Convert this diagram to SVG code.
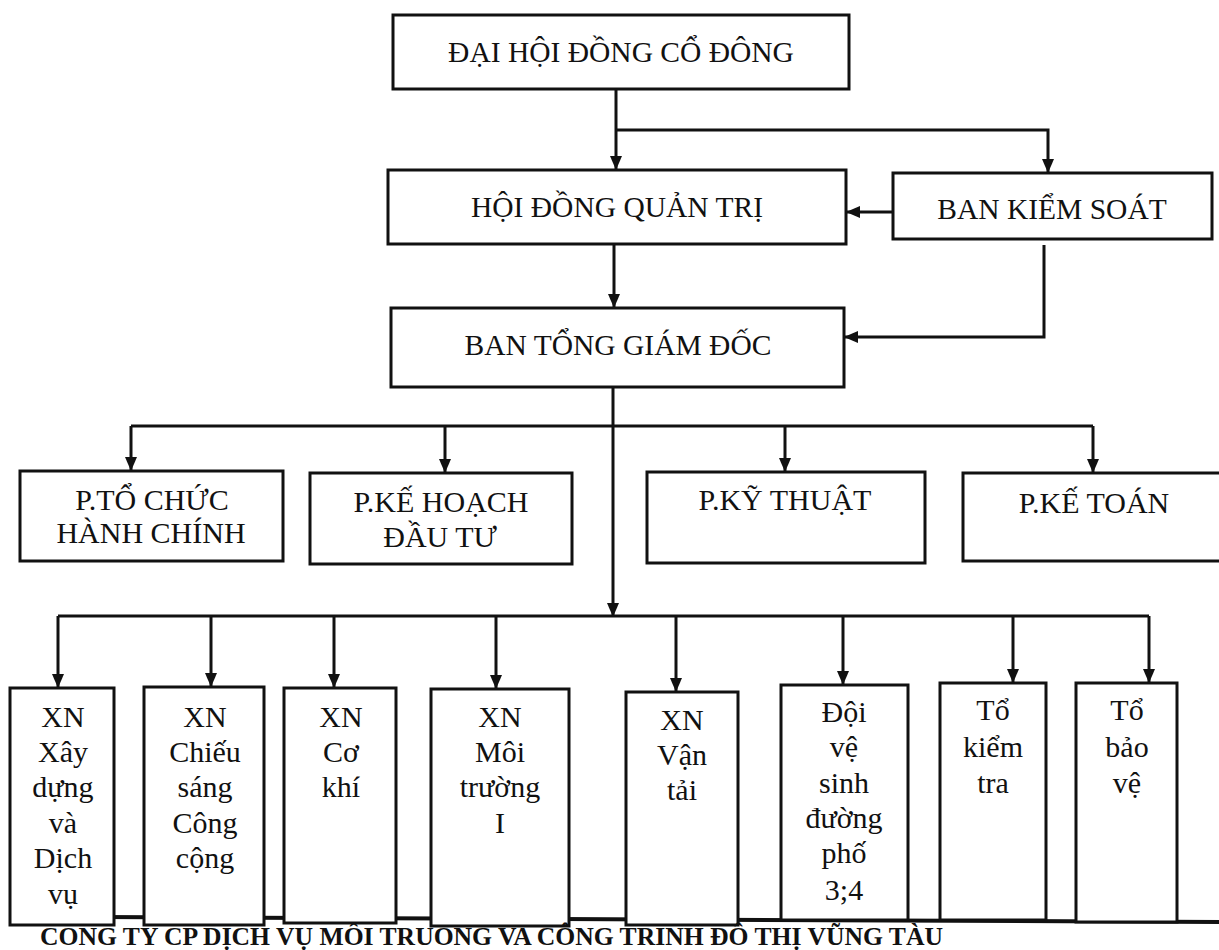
<svg xmlns="http://www.w3.org/2000/svg" width="1219" height="950" viewBox="0 0 1219 950">
<defs>
<marker id="ah" markerUnits="userSpaceOnUse" markerWidth="14" markerHeight="12" refX="14" refY="6" orient="auto">
<path d="M0,0 L14,6 L0,12 z" fill="#111"/>
</marker>
<style>
.box{fill:#fff;stroke:#111;stroke-width:3}
.t{font-family:"Liberation Serif","Times New Roman",serif;fill:#111;text-anchor:middle}
.big{font-size:29.5px}
.mid{font-size:30px}
.ln{fill:none;stroke:#111;stroke-width:3}
.ar{fill:none;stroke:#111;stroke-width:3;marker-end:url(#ah)}
</style>
</defs>
<rect width="1219" height="950" fill="#fff"/>
<line x1="100" y1="917" x2="1219" y2="922" stroke="#111" stroke-width="4"/>
<g id="connectors">
<path class="ar" d="M616,89 V170"/>
<path class="ar" d="M616,130 H1048 V173"/>
<path class="ar" d="M893,212 H846"/>
<path class="ar" d="M614,244 V308"/>
<path class="ar" d="M1044,245 V337 H844"/>
<path class="ar" d="M613,387 V617"/>
<path class="ln" d="M131,426 H1093"/>
<path class="ar" d="M131,426 V471"/>
<path class="ar" d="M445,426 V473"/>
<path class="ar" d="M785,426 V472"/>
<path class="ar" d="M1093,426 V473"/>
<path class="ln" d="M58,616 H1149"/>
<path class="ar" d="M58,616 V688"/>
<path class="ar" d="M211,616 V687"/>
<path class="ar" d="M334,616 V688"/>
<path class="ar" d="M496,616 V689"/>
<path class="ar" d="M676,616 V692"/>
<path class="ar" d="M843,616 V685"/>
<path class="ar" d="M1013,616 V683"/>
<path class="ar" d="M1149,616 V683"/>
</g>
<g id="dhdcd"><rect class="box" x="393" y="15" width="456" height="74"/><text class="t big" x="621" y="62">ĐẠI HỘI ĐỒNG CỔ ĐÔNG</text></g>
<g id="hdqt"><rect class="box" x="388" y="170" width="458" height="74"/><text class="t big" x="617" y="217">HỘI ĐỒNG QUẢN TRỊ</text></g>
<g id="bks"><rect class="box" x="893" y="173" width="319" height="66"/><text class="t big" x="1052" y="219">BAN KIỂM SOÁT</text></g>
<g id="btgd"><rect class="box" x="391" y="308" width="453" height="79"/><text class="t big" x="618" y="355">BAN TỔNG GIÁM ĐỐC</text></g>
<g id="p-tchc"><rect class="box" x="20" y="471" width="263" height="90"/><text class="t mid" x="152" y="510">P.TỔ CHỨC</text><text class="t mid" x="151" y="543">HÀNH CHÍNH</text></g>
<g id="p-khdt"><rect class="box" x="310" y="473" width="262" height="91"/><text class="t mid" x="441" y="512">P.KẾ HOẠCH</text><text class="t mid" x="440" y="547">ĐẦU TƯ</text></g>
<g id="p-kt"><rect class="box" x="647" y="472" width="278" height="91"/><text class="t mid" x="785" y="510">P.KỸ THUẬT</text></g>
<g id="p-ketoan"><rect class="box" x="963" y="473" width="262" height="88"/><text class="t mid" x="1094" y="513">P.KẾ TOÁN</text></g>
<g id="xn-xd"><rect class="box" x="10" y="688" width="104" height="237"/>
<text class="t mid" x="63"><tspan x="63" y="727">XN</tspan><tspan x="63" y="762">Xây</tspan><tspan x="63" y="797">dựng</tspan><tspan x="63" y="833">và</tspan><tspan x="63" y="868">Dịch</tspan><tspan x="63" y="904">vụ</tspan></text></g>
<g id="xn-cs"><rect class="box" x="144" y="687" width="120" height="238"/>
<text class="t mid" x="205"><tspan x="205" y="727">XN</tspan><tspan x="205" y="762">Chiếu</tspan><tspan x="205" y="797">sáng</tspan><tspan x="205" y="833">Công</tspan><tspan x="205" y="868">cộng</tspan></text></g>
<g id="xn-ck"><rect class="box" x="284" y="688" width="112" height="235"/>
<text class="t mid" x="341"><tspan x="341" y="727">XN</tspan><tspan x="341" y="762">Cơ</tspan><tspan x="341" y="797">khí</tspan></text></g>
<g id="xn-mt"><rect class="box" x="431" y="689" width="138" height="237"/>
<text class="t mid" x="500"><tspan x="500" y="727">XN</tspan><tspan x="500" y="762">Môi</tspan><tspan x="500" y="797">trường</tspan><tspan x="500" y="833">I</tspan></text></g>
<g id="xn-vt"><rect class="box" x="626" y="692" width="112" height="233"/>
<text class="t mid" x="682"><tspan x="682" y="730">XN</tspan><tspan x="682" y="765">Vận</tspan><tspan x="682" y="800">tải</tspan></text></g>
<g id="doi-vs"><rect class="box" x="781" y="685" width="127" height="235"/>
<text class="t mid" x="844"><tspan x="844" y="722">Đội</tspan><tspan x="844" y="757">vệ</tspan><tspan x="844" y="793">sinh</tspan><tspan x="844" y="828">đường</tspan><tspan x="844" y="863">phố</tspan><tspan x="844" y="900">3;4</tspan></text></g>
<g id="to-kt"><rect class="box" x="940" y="683" width="106" height="237"/>
<text class="t mid" x="993"><tspan x="993" y="720">Tổ</tspan><tspan x="993" y="757">kiểm</tspan><tspan x="993" y="793">tra</tspan></text></g>
<g id="to-bv"><rect class="box" x="1076" y="683" width="101" height="239"/>
<text class="t mid" x="1127"><tspan x="1127" y="720">Tổ</tspan><tspan x="1127" y="757">bảo</tspan><tspan x="1127" y="793">vệ</tspan></text></g>
<text x="40" y="945" textLength="903" lengthAdjust="spacingAndGlyphs" font-family="'Liberation Serif','Times New Roman',serif" font-weight="bold" font-size="25.3" fill="#111">CONG TY CP DỊCH VỤ MÔI TRUONG VA CÔNG TRINH ĐÔ THỊ VŨNG TÀU</text>
</svg>
